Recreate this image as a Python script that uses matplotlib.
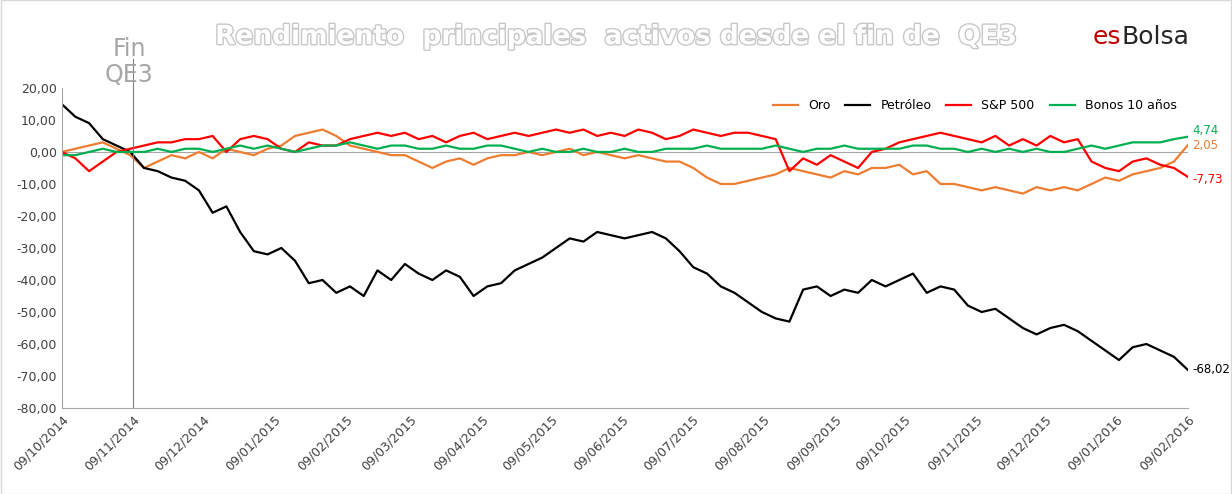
import numpy as np
import pandas as pd
import matplotlib
matplotlib.use("Agg")
from matplotlib import pyplot as plt
import matplotlib.dates as mdates
import matplotlib.patheffects as pe

# valores (%), ~5 por mes
petroleo = [15, 11, 9, 4, 2,
            0, -5, -6, -8, -9,
            -12, -19, -17, -25, -31,
            -32, -30, -34, -41, -40,
            -44, -42, -45, -37, -40,
            -35, -38, -40, -37, -39,
            -45, -42, -41, -37, -35,
            -33, -30, -27, -28, -25,
            -26, -27, -26, -25, -27,
            -31, -36, -38, -42, -44,
            -47, -50, -52, -53, -43,
            -42, -45, -43, -44, -40,
            -42, -40, -38, -44, -42,
            -43, -48, -50, -49, -52,
            -55, -57, -55, -54, -56,
            -59, -62, -65, -61, -60,
            -62, -64, -68.02]
oro = [0, 1, 2, 3, 1,
       -1, -5, -3, -1, -2,
       0, -2, 1, 0, -1,
       1, 2, 5, 6, 7,
       5, 2, 1, 0, -1,
       -1, -3, -5, -3, -2,
       -4, -2, -1, -1, 0,
       -1, 0, 1, -1, 0,
       -1, -2, -1, -2, -3,
       -3, -5, -8, -10, -10,
       -9, -8, -7, -5, -6,
       -7, -8, -6, -7, -5,
       -5, -4, -7, -6, -10,
       -10, -11, -12, -11, -12,
       -13, -11, -12, -11, -12,
       -10, -8, -9, -7, -6,
       -5, -3, 2.05]
sp500 = [0, -2, -6, -3, 0,
         1, 2, 3, 3, 4,
         4, 5, 0, 4, 5,
         4, 1, 0, 3, 2,
         2, 4, 5, 6, 5,
         6, 4, 5, 3, 5,
         6, 4, 5, 6, 5,
         6, 7, 6, 7, 5,
         6, 5, 7, 6, 4,
         5, 7, 6, 5, 6,
         6, 5, 4, -6, -2,
         -4, -1, -3, -5, 0,
         1, 3, 4, 5, 6,
         5, 4, 3, 5, 2,
         4, 2, 5, 3, 4,
         -3, -5, -6, -3, -2,
         -4, -5, -7.73]
bonos = [-1, -1, 0, 1, 0,
         0, 0, 1, 0, 1,
         1, 0, 1, 2, 1,
         2, 1, 0, 1, 2,
         2, 3, 2, 1, 2,
         2, 1, 1, 2, 1,
         1, 2, 2, 1, 0,
         1, 0, 0, 1, 0,
         0, 1, 0, 0, 1,
         1, 1, 2, 1, 1,
         1, 1, 2, 1, 0,
         1, 1, 2, 1, 1,
         1, 1, 2, 2, 1,
         1, 0, 1, 0, 1,
         0, 1, 0, 0, 1,
         2, 1, 2, 3, 3,
         3, 4, 4.74]

fechas = pd.date_range("2014-10-09", "2016-02-09", periods=len(petroleo))
ticks = [pd.Timestamp(2014 + (9 + i) // 12, (9 + i) % 12 + 1, 9) for i in range(17)]
fin_qe3 = pd.Timestamp("2014-11-09")

fig = plt.figure(figsize=(12.32, 4.94), dpi=100)
ax = fig.add_axes([0.050, 0.174, 0.914, 0.648])

series = [("Oro", oro, "#ED7D31"), ("Petróleo", petroleo, "black"),
          ("S&P 500", sp500, "#FF0000"), ("Bonos 10 años", bonos, "#00B050")]
for nombre, vals, col in series:
    ax.plot(fechas, vals, color=col, lw=1.6, label=nombre)

# etiquetas finales
offs = {"Oro": 0, "Petróleo": 0, "S&P 500": -1, "Bonos 10 años": 2}
for nombre, vals, col in series:
    ax.text(fechas[-1] + pd.Timedelta(days=2), vals[-1] + offs[nombre],
            f"{vals[-1]:.2f}".replace(".", ","), color=col, fontsize=8.5, va="center")

ax.axhline(0, color="#A6A6A6", lw=0.8, zorder=0)
ax.axvline(fin_qe3, ymin=0, ymax=1.09, color="#808080", lw=0.8, clip_on=False)

ax.set_ylim(-80, 20)
ax.set_yticks(np.arange(-80, 21, 10))
ax.yaxis.set_major_formatter(plt.FuncFormatter(lambda v, p: f"{v:.2f}".replace(".", ",")))
ax.set_xlim(fechas[0], fechas[-1])
ax.set_xticks(ticks)
ax.xaxis.set_major_formatter(mdates.DateFormatter("%d/%m/%Y"))
plt.setp(ax.get_xticklabels(), rotation=45, ha="right", rotation_mode="anchor")
ax.tick_params(labelsize=9, colors="#404040", length=0)
for s in ["top", "right"]:
    ax.spines[s].set_visible(False)
for s in ["left", "bottom"]:
    ax.spines[s].set_color("#A6A6A6")

ax.legend(loc="upper right", ncol=4, frameon=False, fontsize=9,
          bbox_to_anchor=(1.0, 1.0), handlelength=2, columnspacing=1.2)

fig.text(0.5, 0.925, "Rendimiento  principales  activos desde el fin de  QE3",
         ha="center", va="center", fontsize=19, color="white", fontweight="bold",
         path_effects=[pe.withStroke(linewidth=2, foreground="#C8C8C8")])
fig.text(0.105, 0.875, "Fin\nQE3", ha="center", va="center", fontsize=17,
         color="#A6A6A6", linespacing=1.1)
fig.text(0.91, 0.925, "es", ha="right", va="center", fontsize=18, color="#C00000")
fig.text(0.91, 0.925, "Bolsa", ha="left", va="center", fontsize=18, color="#262626")

fig.patches.append(plt.Rectangle((0.001, 0.001), 0.998, 0.998, transform=fig.transFigure,
                                 fill=False, edgecolor="#D9D9D9", lw=1))
fig.savefig("out.png", dpi=100)
